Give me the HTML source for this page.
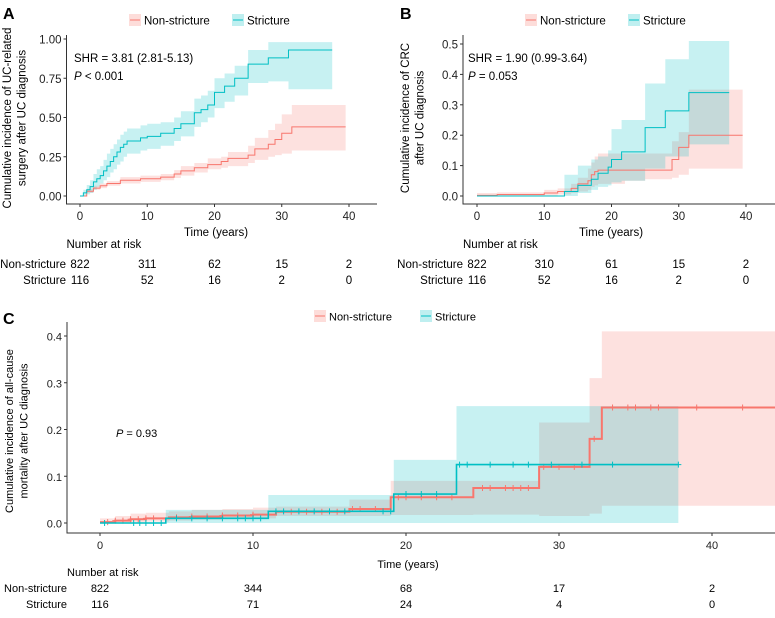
<!DOCTYPE html>
<html><head><meta charset="utf-8"><style>
body{margin:0;background:#fff;width:775px;height:618px;overflow:hidden}
svg{display:block;font-family:"Liberation Sans",sans-serif}
</style></head><body>
<svg id="fig" width="775" height="618" viewBox="0 0 775 618"></svg>
<script>
// ---- Panel A data ----
const aStrT=[0,0.5,1,1.5,2,2.5,3,3.5,4,4.5,5,5.5,6,6.5,7,9,10,12,14,15,17,18,19,20,21.5,23,25,28,31];
const aStrV=[0,0.02,0.04,0.06,0.09,0.11,0.13,0.16,0.19,0.22,0.25,0.28,0.31,0.33,0.35,0.37,0.38,0.40,0.43,0.46,0.53,0.55,0.58,0.66,0.70,0.75,0.84,0.88,0.93];
const aStrLo=[0,0,0.01,0.02,0.04,0.06,0.08,0.1,0.12,0.15,0.17,0.2,0.22,0.25,0.27,0.29,0.30,0.32,0.35,0.38,0.44,0.47,0.50,0.56,0.60,0.64,0.72,0.73,0.68];
const aStrHi=[0,0.04,0.07,0.10,0.14,0.17,0.19,0.23,0.27,0.30,0.33,0.36,0.39,0.41,0.43,0.45,0.46,0.47,0.50,0.54,0.62,0.64,0.67,0.75,0.78,0.83,0.93,0.98,0.98];
const aStrEnd=37.5;
const aNonT=[0,1,2,3,4,6,9,12,14,15,17,19,21,22,25,26,28,29,30,31.5];
const aNonV=[0,0.03,0.05,0.065,0.08,0.10,0.11,0.12,0.14,0.16,0.18,0.20,0.22,0.24,0.26,0.30,0.33,0.36,0.40,0.44];
const aNonLo=[0,0.02,0.04,0.05,0.065,0.08,0.09,0.10,0.115,0.13,0.15,0.17,0.18,0.19,0.21,0.23,0.25,0.26,0.27,0.29];
const aNonHi=[0,0.045,0.065,0.08,0.095,0.12,0.13,0.14,0.165,0.19,0.21,0.24,0.25,0.28,0.32,0.37,0.42,0.46,0.52,0.58];
const aNonEnd=39.5;
// ---- Panel B data ----
const bStrT=[0,13,15,17,18,19.5,20,21.5,25,28,31.5];
const bStrV=[0,0.015,0.035,0.055,0.075,0.095,0.12,0.145,0.225,0.28,0.34];
const bStrLo=[0,0,0.01,0.02,0.03,0.035,0.045,0.05,0.09,0.13,0.17];
const bStrHi=[0,0.07,0.10,0.12,0.13,0.15,0.22,0.25,0.37,0.45,0.51];
const bStrEnd=37.5;
const bNonT=[0,3,10,12,14,15,16.5,17,17.5,18,22,25,29,30,31.5];
const bNonV=[0.002,0.005,0.01,0.015,0.025,0.04,0.05,0.07,0.08,0.085,0.085,0.085,0.12,0.16,0.20];
const bNonLo=[0,0,0.002,0.005,0.01,0.015,0.02,0.03,0.035,0.04,0.05,0.055,0.06,0.07,0.09];
const bNonHi=[0.01,0.012,0.02,0.025,0.04,0.06,0.09,0.11,0.13,0.14,0.14,0.14,0.18,0.21,0.35];
const bNonEnd=39.5;
// ---- Panel C data ----
const cStrT=[0,4.3,11,19.2,23.3];
const cStrV=[0,0.01,0.025,0.062,0.125];
const cStrLo=[0,0,0,0,0];
const cStrHi=[0,0.028,0.06,0.135,0.25];
const cStrEnd=37.8;
const cStrCens=[0.3,2.2,2.6,3,3.5,4,5,6,7,8,9,9.5,10,10.5,11.5,12,13,14,15,16,18.5,19,20,21,22,23.5,24,25.5,27,28,29.5,31.5,33.5,37.8];
const cNonT=[0,1,2,3,4.5,6,8,10,11.5,16.3,19,24.4,28.7,32,32.8];
const cNonV=[0.002,0.005,0.008,0.010,0.012,0.014,0.016,0.018,0.024,0.030,0.055,0.075,0.12,0.18,0.247];
const cNonLo=[0,0,0.002,0.003,0.005,0.007,0.008,0.01,0.015,0.015,0.017,0.018,0.015,0.02,0.037];
const cNonHi=[0.01,0.015,0.02,0.022,0.025,0.028,0.03,0.033,0.035,0.05,0.09,0.09,0.215,0.31,0.41];
const cNonEnd=44.5;
const cNonCens=[0.5,1,1.5,2,2.5,3,3.5,5,6,7,8,9,10,11,12.5,13.5,14.5,15.5,16.5,17,18,19.5,20,21,22,23,25,25.5,26.5,27,27.5,28,29,30,31,32.3,33.5,34.5,35,36,36.5,39,42];
const xTicks=[0,10,20,30,40];
const aYTicks=[0,0.25,0.5,0.75,1.0], aYLab=["0.00","0.25","0.50","0.75","1.00"];
const bYTicks=[0,0.1,0.2,0.3,0.4,0.5], bYLab=["0.0","0.1","0.2","0.3","0.4","0.5"];
const cYTicks=[0,0.1,0.2,0.3,0.4], cYLab=["0.0","0.1","0.2","0.3","0.4"];
const aRiskNon=[822,311,62,15,2], aRiskStr=[116,52,16,2,0];
const bRiskNon=[822,310,61,15,2], bRiskStr=[116,52,16,2,0];
const cRiskNon=[822,344,68,17,2], cRiskStr=[116,71,24,4,0];

const NS="http://www.w3.org/2000/svg", svg=document.getElementById('fig');
const RED="#F8766D", TEAL="#00BFC4";
function el(tag,attrs,parent,text){const e=document.createElementNS(NS,tag);for(const k in attrs)e.setAttribute(k,attrs[k]);if(text!==undefined)e.textContent=text;(parent||svg).appendChild(e);return e;}
function stepPath(T,V,end,X,Y){let d="M"+X(T[0])+","+Y(V[0]);for(let i=1;i<T.length;i++){d+="H"+X(T[i])+"V"+Y(V[i]);}return d+"H"+X(end);}
function bandPath(T,L,H,end,X,Y){let d="M"+X(T[0])+","+Y(H[0]);for(let i=1;i<T.length;i++){d+="H"+X(T[i])+"V"+Y(H[i]);}d+="H"+X(end)+"V"+Y(L[L.length-1]);for(let i=T.length-1;i>0;i--){d+="H"+X(T[i])+"V"+Y(L[i-1]);}return d+"H"+X(T[0])+"Z";}
function panel(p){
  const X=t=>p.x0+t*p.px, Y=v=>p.y0-v*p.py;
  const g=el('g',{});
  
  
  const lab=el('text',{x:p.lx,y:p.ly,'font-size':16,'font-weight':'bold'},g,p.label);
  
  
  [[RED,"Non-stricture",p.leg[0]],[TEAL,"Stricture",p.leg[1]]].forEach(([c,t,x])=>{
    const lg=el('g',{},g);
    
    
    el('rect',{x:x,y:p.legY-6,width:12,height:12,fill:c,'fill-opacity':0.25},lg);
    el('line',{x1:x+1,x2:x+11,y1:p.legY,y2:p.legY,stroke:c,'stroke-width':1},lg);
    el('text',{x:x+15,y:p.legY+4.5,'font-size':p.fs},lg,t);
  });
  p.series.forEach(s=>{
    const b=el('path',{d:bandPath(s.T,s.L,s.H,s.end,X,Y),fill:s.c,'fill-opacity':0.22},g);
    
    
  });
  p.series.forEach(s=>{
    const l=el('path',{d:stepPath(s.T,s.V,s.end,X,Y),fill:'none',stroke:s.c,'stroke-width':s.w||1},g);
    
    
    if(s.cens){s.cens.forEach(t=>{let v=s.V[0];for(let i=0;i<s.T.length;i++)if(s.T[i]<=t)v=s.V[i];
      const m=el('path',{d:`M${X(t)-3},${Y(v)}h6M${X(t)},${Y(v)-3}v6`,stroke:s.c,'stroke-width':1},g);
      
      });}
  });
  const ax=el('path',{d:`M${p.axL},${p.axT}V${p.axB}H${p.axR}`,fill:'none',stroke:'#333','stroke-width':1},g);
  
  
  xTicks.forEach(t=>{el('line',{x1:X(t),x2:X(t),y1:p.axB,y2:p.axB+3,stroke:'#333'},g);
    const tl=el('text',{x:X(t),y:p.axB+16,'text-anchor':'middle','font-size':p.fs,fill:'#222'},g,t);
    
    });
  p.yT.forEach((v,i)=>{el('line',{x1:p.axL-3,x2:p.axL,y1:Y(v),y2:Y(v),stroke:'#333'},g);
    const tl=el('text',{x:p.axL-5,y:Y(v)+4.5,'text-anchor':'end','font-size':p.fs,fill:'#222'},g,p.yL[i]);
    
    });
  const xt=el('text',{x:p.xtx,y:p.xty,'text-anchor':'middle','font-size':p.fs},g,"Time (years)");
  
  
  const yt=el('text',{transform:`translate(${p.ytx},${p.yty}) rotate(-90)`,'text-anchor':'middle','font-size':p.fs},g);
  
  
  el('tspan',{x:0,dy:0},yt,p.yt[0]);el('tspan',{x:0,dy:14.5},yt,p.yt[1]);
  p.ann.forEach((a,i)=>{const t=el('text',{x:p.annX,y:p.annY+i*18,'font-size':p.fs},g);
    
    
    if(a.startsWith("P")){el('tspan',{'font-style':'italic'},t,"P");el('tspan',{},t,a.slice(1));}else t.textContent=a;});
  const nr=el('text',{x:p.axL,y:p.riskY,'font-size':p.fs},g,"Number at risk");
  
  
  [["Non-stricture",p.rn,p.riskY+p.rowGap[0]],["Stricture",p.rs,p.riskY+p.rowGap[1]]].forEach(([n,arr,y])=>{
    const rl=el('text',{x:p.rowLabX,y:y,'text-anchor':'end','font-size':p.fs},g,n);
    
    
    arr.forEach((v,i)=>{const c=el('text',{x:X(xTicks[i]),y:y,'text-anchor':'middle','font-size':p.fs},g,v);
      
      });
  });
}
panel({name:'panel-a',label:'A',lx:3,ly:19,x0:80,px:6.725,y0:196,py:157,axL:66.5,axT:35,axB:204,axR:377,
  leg:[129,232],legY:20,fs:11.5,yT:aYTicks,yL:aYLab,xtx:216,xty:236,ytx:11,yty:118,yt:["Cumulative incidence of UC-related","surgery after UC diagnosis"],
  annX:74,annY:62,ann:["SHR = 3.81 (2.81-5.13)","P < 0.001"],riskY:248,rowGap:[20,36],rowLabX:66,rn:aRiskNon,rs:aRiskStr,
  series:[{id:'non-stricture',c:RED,T:aNonT,V:aNonV,L:aNonLo,H:aNonHi,end:aNonEnd},{id:'stricture',c:TEAL,T:aStrT,V:aStrV,L:aStrLo,H:aStrHi,end:aStrEnd}]});
panel({name:'panel-b',label:'B',lx:400,ly:19,x0:477,px:6.725,y0:196,py:304,axL:463,axT:35,axB:204,axR:775,
  leg:[525,628],legY:20,fs:11.5,yT:bYTicks,yL:bYLab,xtx:611,xty:236,ytx:409,yty:118,yt:["Cumulative incidence of CRC","after UC diagnosis"],
  annX:468,annY:62,ann:["SHR = 1.90 (0.99-3.64)","P = 0.053"],riskY:248,rowGap:[20,36],rowLabX:463,rn:bRiskNon,rs:bRiskStr,
  series:[{id:'non-stricture',c:RED,T:bNonT,V:bNonV,L:bNonLo,H:bNonHi,end:bNonEnd},{id:'stricture',c:TEAL,T:bStrT,V:bStrV,L:bStrLo,H:bStrHi,end:bStrEnd}]});
panel({name:'panel-c',label:'C',lx:3,ly:324,x0:100,px:15.3,y0:523,py:467.5,axL:67,axT:322,axB:533,axR:775,
  leg:[314,420],legY:316,fs:11,yT:cYTicks,yL:cYLab,xtx:408,xty:568,ytx:13,yty:431,yt:["Cumulative incidence of all-cause","mortality after UC diagnosis"],
  annX:116,annY:437,ann:["P = 0.93"],riskY:576,rowGap:[16,32],rowLabX:67,rn:cRiskNon,rs:cRiskStr,
  series:[{id:'non-stricture',c:RED,T:cNonT,V:cNonV,L:cNonLo,H:cNonHi,end:cNonEnd,cens:cNonCens,w:2},{id:'stricture',c:TEAL,T:cStrT,V:cStrV,L:cStrLo,H:cStrHi,end:cStrEnd,cens:cStrCens,w:1.6}]});
</script>
</body></html>
